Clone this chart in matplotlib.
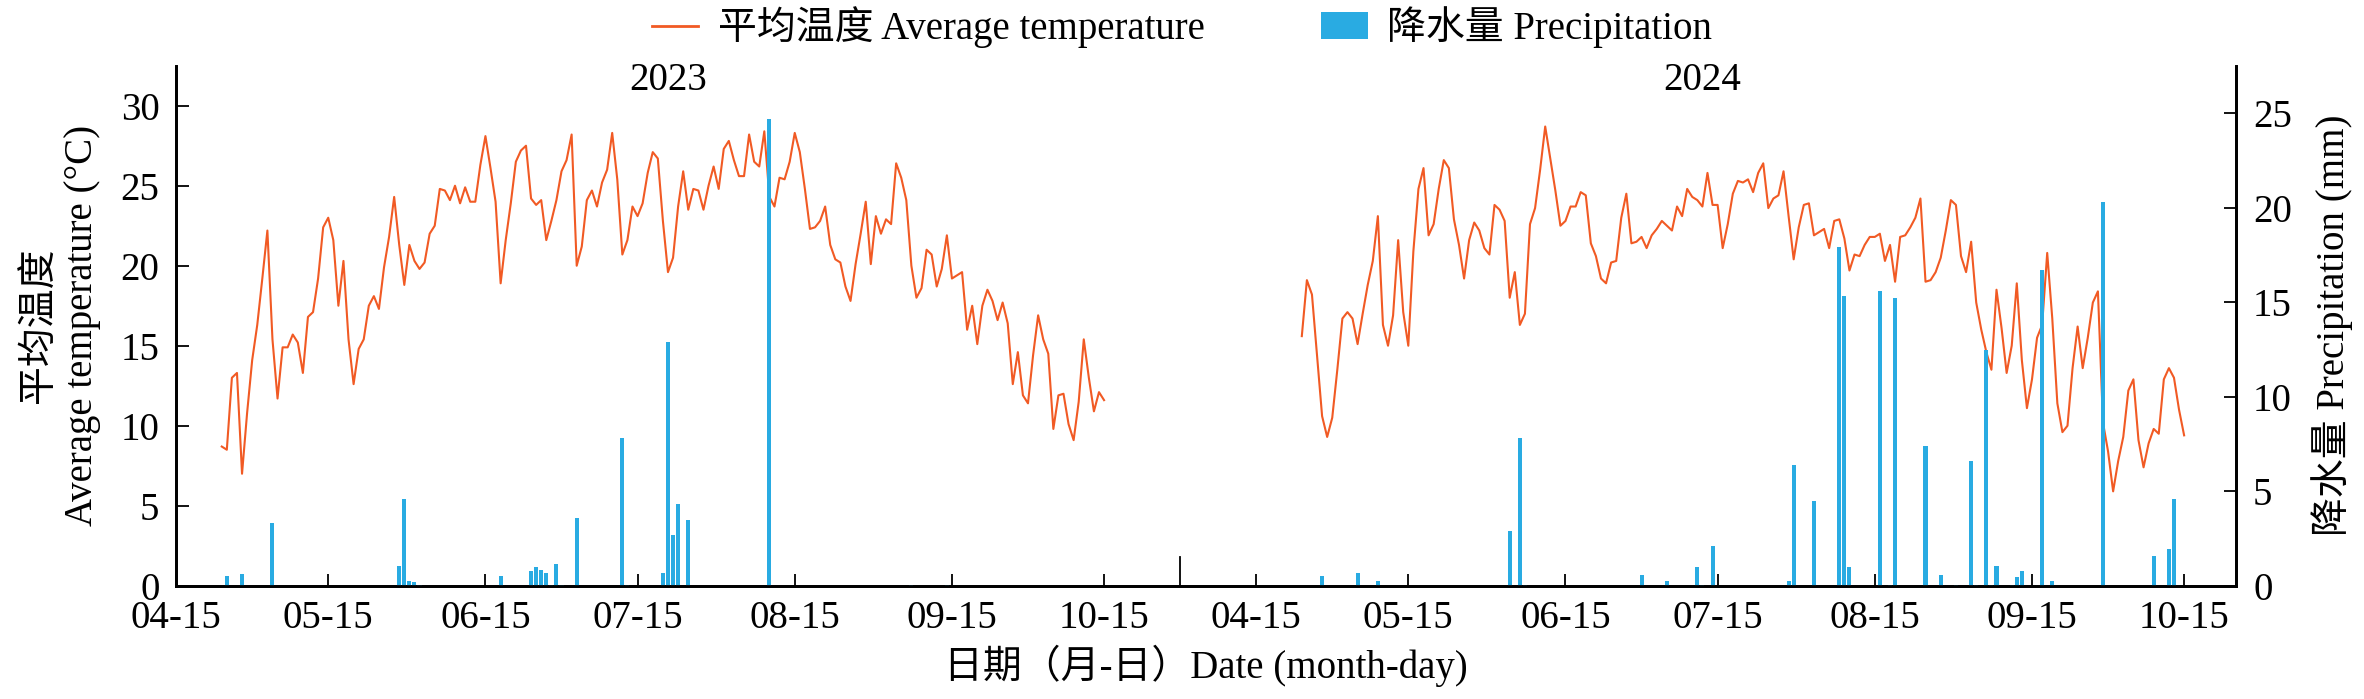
import numpy as np
import pandas as pd
import matplotlib
matplotlib.use('Agg')
import matplotlib.pyplot as plt
from matplotlib.lines import Line2D
from matplotlib.patches import Patch

plt.rcParams['font.family'] = ['Liberation Serif', 'Noto Sans CJK SC']

# daily mean temperature, 04-24 .. 10-15
temp_2023 = [
    8.7, 8.5, 13.0, 13.3, 7.0, 10.8, 14.1, 16.3, 19.2, 22.2,
    15.4, 11.7, 14.9, 14.9, 15.7, 15.2, 13.3, 16.8, 17.1, 19.2,
    22.4, 23.0, 21.6, 17.5, 20.3, 15.4, 12.6, 14.8, 15.4, 17.5,
    18.1, 17.3, 19.9, 21.8, 24.3, 21.3, 18.8, 21.3, 20.3, 19.8,
    20.2, 22.0, 22.5, 24.8, 24.7, 24.1, 25.0, 23.9, 24.9, 24.0,
    24.0, 26.3, 28.1, 26.1, 24.0, 18.9, 21.6, 23.9, 26.5, 27.2,
    27.5, 24.2, 23.8, 24.1, 21.6, 22.8, 24.1, 25.9, 26.6, 28.2,
    20.0, 21.2, 24.1, 24.7, 23.7, 25.2, 26.0, 28.3, 25.4, 20.7,
    21.6, 23.7, 23.1, 23.9, 25.8, 27.1, 26.7, 22.8, 19.6, 20.5,
    23.7, 25.9, 23.5, 24.8, 24.7, 23.5, 25.0, 26.2, 24.8, 27.3,
    27.8, 26.6, 25.6, 25.6, 28.2, 26.5, 26.2, 28.4, 24.3, 23.7,
    25.5, 25.4, 26.5, 28.3, 27.1, 24.8, 22.3, 22.4, 22.8, 23.7,
    21.3, 20.4, 20.2, 18.7, 17.8, 20.1, 22.0, 24.0, 20.1, 23.1,
    22.0, 22.9, 22.6, 26.4, 25.5, 24.1, 20.0, 18.0, 18.6, 21.0,
    20.7, 18.7, 19.8, 21.9, 19.2, 19.4, 19.6, 16.0, 17.5, 15.1,
    17.5, 18.5, 17.8, 16.6, 17.7, 16.4, 12.6, 14.6, 11.9, 11.4,
    14.4, 16.9, 15.4, 14.5, 9.8, 11.9, 12.0, 10.1, 9.1, 11.5,
    15.4, 13.0, 10.9, 12.1, 11.6,
]
temp_2024 = [
    15.6, 19.1, 18.2, 14.4, 10.6, 9.3, 10.5, 13.5, 16.7, 17.1,
    16.7, 15.1, 17.0, 18.8, 20.3, 23.1, 16.3, 15.0, 16.9, 21.6,
    17.1, 15.0, 20.9, 24.8, 26.1, 21.9, 22.6, 24.8, 26.6, 26.1,
    22.9, 21.3, 19.2, 21.6, 22.7, 22.2, 21.1, 20.7, 23.8, 23.5,
    22.8, 18.0, 19.6, 16.3, 17.0, 22.6, 23.6, 26.0, 28.7, 26.7,
    24.7, 22.5, 22.8, 23.7, 23.7, 24.6, 24.4, 21.4, 20.6, 19.2,
    18.9, 20.2, 20.3, 23.0, 24.5, 21.4, 21.5, 21.8, 21.1, 21.9,
    22.3, 22.8, 22.5, 22.2, 23.7, 23.1, 24.8, 24.3, 24.1, 23.7,
    25.8, 23.8, 23.8, 21.1, 22.6, 24.5, 25.3, 25.2, 25.4, 24.6,
    25.8, 26.4, 23.6, 24.2, 24.4, 25.9, 23.1, 20.4, 22.4, 23.8,
    23.9, 21.9, 22.1, 22.3, 21.1, 22.8, 22.9, 21.7, 19.7, 20.7,
    20.6, 21.3, 21.8, 21.8, 22.0, 20.3, 21.3, 19.0, 21.8, 21.9,
    22.4, 23.0, 24.2, 19.0, 19.1, 19.6, 20.5, 22.2, 24.1, 23.8,
    20.6, 19.6, 21.5, 17.7, 16.0, 14.6, 13.5, 18.5, 16.1, 13.3,
    15.0, 18.9, 14.1, 11.1, 12.9, 15.5, 16.3, 20.8, 16.7, 11.4,
    9.6, 10.0, 13.6, 16.2, 13.6, 15.5, 17.7, 18.4, 10.2, 8.4,
    5.9, 7.8, 9.3, 12.2, 12.9, 9.1, 7.4, 8.9, 9.8, 9.5,
    12.9, 13.6, 13.0, 11.0, 9.4,
]

# precipitation days (mm)
rain_days_2023 = ['04-25', '04-28', '05-04', '05-29', '05-30', '05-31', '06-01',
                  '06-02', '06-18', '06-24', '06-25', '06-26', '06-27', '06-28',
                  '06-29', '06-30', '07-03', '07-12', '07-13', '07-20', '07-21',
                  '07-22', '07-23', '07-25', '08-10', '09-07', '09-14']
rain_2023 = [0.5, 0.6, 3.3, 1.05, 4.6, 0.26, 0.2,
             0.05, 0.5, 0.8, 1.0, 0.85, 0.7, 0.06,
             1.15, 0.05, 3.6, 7.8, 0.05, 0.7, 12.9,
             2.7, 4.3, 3.5, 24.7, 0.05, 0.05]
rain_days_2024 = ['04-28', '05-05', '05-09', '06-04', '06-06', '06-07', '06-30',
                  '07-05', '07-11', '07-12', '07-14', '07-29', '07-30', '08-03',
                  '08-08', '08-09', '08-10', '08-16', '08-18', '08-19', '08-25',
                  '08-28', '08-31', '09-03', '09-04', '09-06', '09-07', '09-08',
                  '09-11', '09-12', '09-13', '09-17', '09-19', '09-29', '10-09',
                  '10-12', '10-13']
rain_2024 = [0.5, 0.7, 0.25, 2.9, 7.8, 0.05, 0.55,
             0.25, 1.0, 0.05, 2.1, 0.25, 6.4, 4.5,
             17.9, 15.3, 1.0, 15.6, 0.05, 15.2, 7.4,
             0.55, 0.05, 6.6, 0.05, 12.45, 0.05, 1.05,
             0.05, 0.47, 0.77, 16.7, 0.25, 20.3, 1.55,
             1.95, 4.6]

tick_dates = ['04-15', '05-15', '06-15', '07-15', '08-15', '09-15', '10-15']
years = [2023, 2024]

OFFSET = 213   # second season starts here on the day axis
SEP = 198      # small divider between seasons


def day_pos(year, mmdd):
    d = pd.to_datetime([f'{year}-{s}' for s in mmdd])
    base = pd.Timestamp(f'{year}-04-15')
    off = 0 if year == years[0] else OFFSET
    return np.array((d - base).days) + off


orange = '#F15A24'
blue = '#29ABE2'
fs = 28

fig = plt.figure(figsize=(23.64, 6.99), dpi=100)
ax = fig.add_axes([0.0745, 0.162, 0.8715, 0.744])
ax2 = ax.twinx()

for yr, temps in zip(years, [temp_2023, temp_2024]):
    dates = pd.date_range(f'{yr}-04-24', f'{yr}-10-15').strftime('%m-%d')
    ax.plot(day_pos(yr, dates), temps, color=orange, lw=1.5)

for yr, dd, vals in zip(years, [rain_days_2023, rain_days_2024], [rain_2023, rain_2024]):
    ax2.bar(day_pos(yr, dd), vals, width=0.8, color=blue)

ax.set_xlim(0, 406.3)
ax.set_ylim(0, 32.5)
ax2.set_ylim(0, 27.5)
ax.set_yticks(np.arange(0, 31, 5))
ax2.set_yticks(np.arange(0, 26, 5))

xt = np.concatenate([day_pos(yr, tick_dates) for yr in years])
ax.set_xticks(xt)
ax.set_xticklabels(tick_dates * 2)

for a in (ax, ax2):
    a.spines['top'].set_visible(False)
    for s in ('left', 'right', 'bottom'):
        a.spines[s].set_linewidth(2)
    a.tick_params(direction='in', length=9, width=1.3, labelsize=fs)
ax.tick_params(axis='y', pad=12)
ax.tick_params(axis='x', pad=10)
ax2.tick_params(axis='y', pad=12)

ax.plot([SEP, SEP], [0, 0.055], transform=ax.get_xaxis_transform(),
        color='black', lw=1.3, clip_on=False)

ax.text(97, 31.6, '2023', ha='center', va='center', fontsize=fs)
ax.text(301, 31.6, '2024', ha='center', va='center', fontsize=fs)

ax.set_xlabel('日期（月-日）Date (month-day)', fontsize=fs, labelpad=6)
ax.set_ylabel('平均温度\nAverage temperature (°C)', fontsize=fs, labelpad=14)
ax2.set_ylabel('降水量 Precipitation (mm)', fontsize=fs, labelpad=14)

handles = [Line2D([0], [0], color=orange, lw=2),
           Patch(facecolor=blue)]
fig.legend(handles, ['平均温度 Average temperature', '降水量 Precipitation'],
           loc='center', bbox_to_anchor=(0.5, 0.961), ncol=2, frameon=False,
           fontsize=fs, handlelength=1.2, columnspacing=3.0, handletextpad=0.5)

fig.savefig('out.png', dpi=100)
